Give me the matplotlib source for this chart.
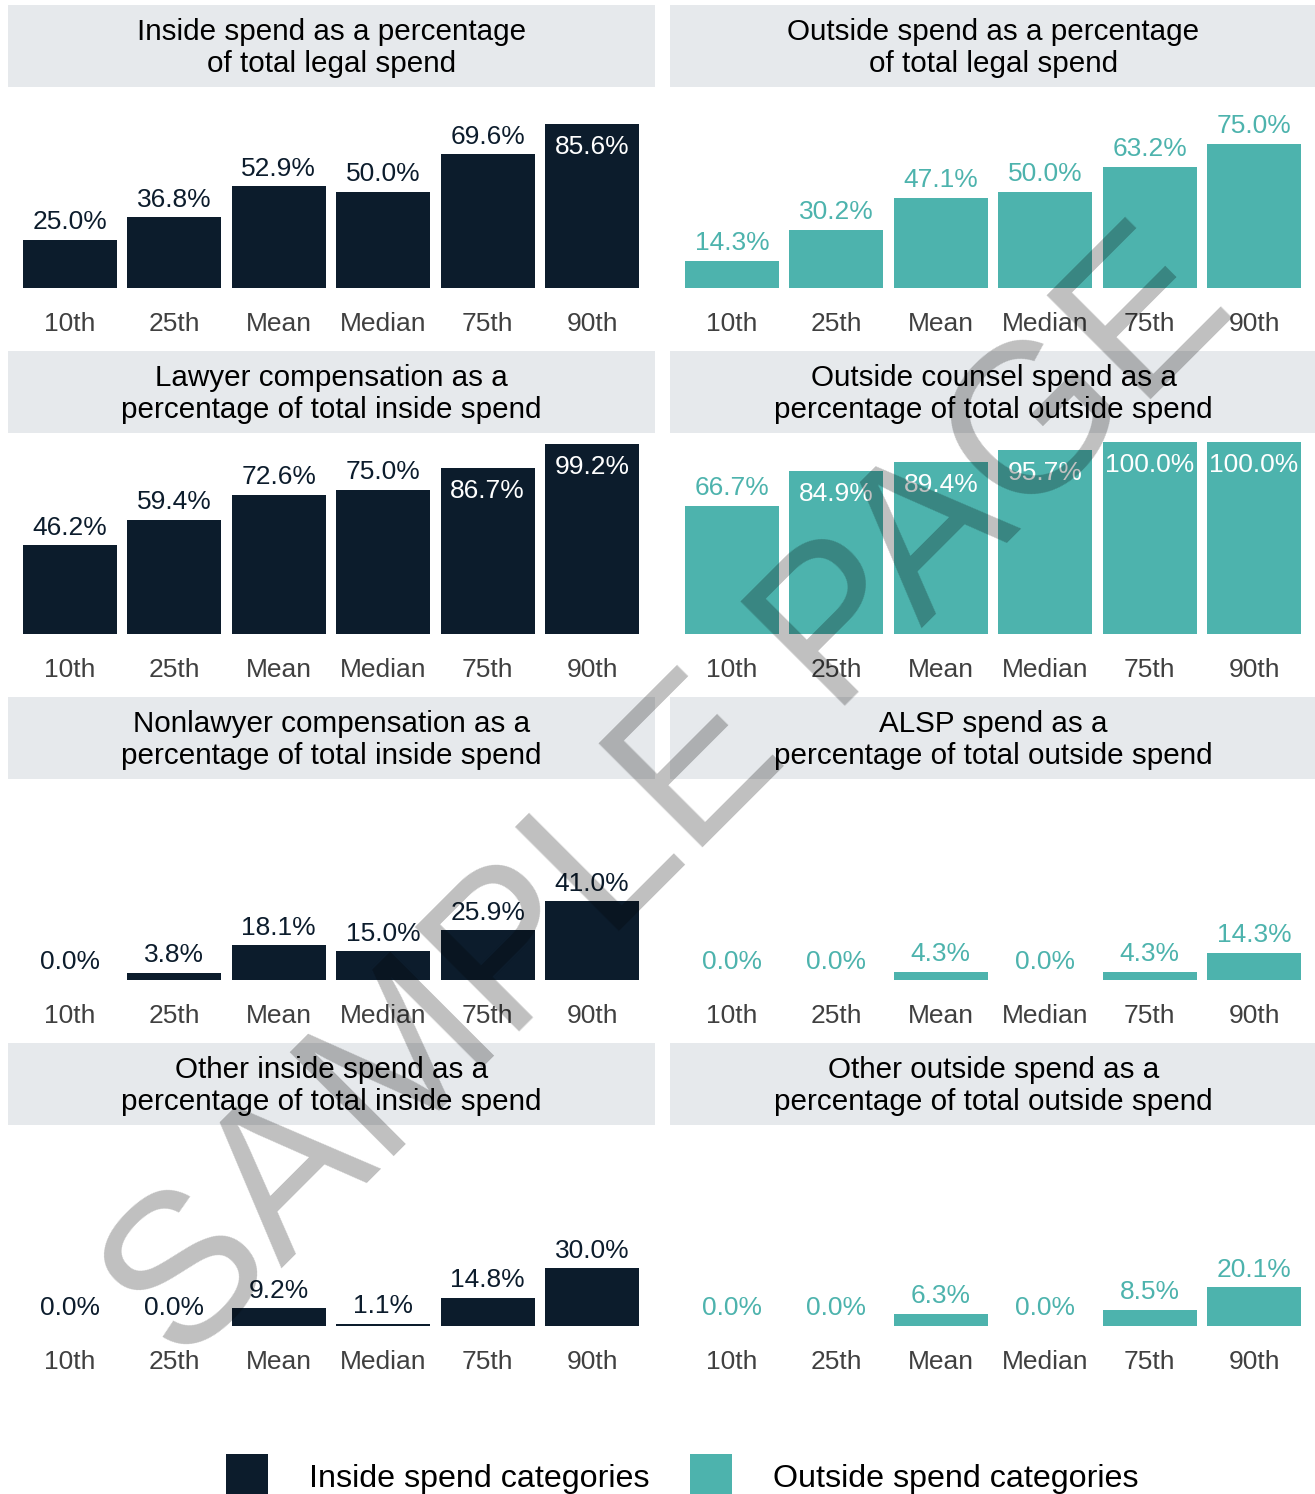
import matplotlib.pyplot as plt
from matplotlib.patches import Rectangle

plt.rcParams['font.family'] = ['Liberation Sans', 'DejaVu Sans']

categories = ['10th', '25th', 'Mean', 'Median', '75th', '90th']

titles = [
    ['Inside spend as a percentage\nof total legal spend',
     'Outside spend as a percentage\nof total legal spend'],
    ['Lawyer compensation as a\npercentage of total inside spend',
     'Outside counsel spend as a\npercentage of total outside spend'],
    ['Nonlawyer compensation as a\npercentage of total inside spend',
     'ALSP spend as a\npercentage of total outside spend'],
    ['Other inside spend as a\npercentage of total inside spend',
     'Other outside spend as a\npercentage of total outside spend'],
]

inside_total = [25.0, 36.8, 52.9, 50.0, 69.6, 85.6]
outside_total = [14.3, 30.2, 47.1, 50.0, 63.2, 75.0]
lawyer_comp = [46.2, 59.4, 72.6, 75.0, 86.7, 99.2]
outside_counsel = [66.7, 84.9, 89.4, 95.7, 100.0, 100.0]
nonlawyer_comp = [0.0, 3.8, 18.1, 15.0, 25.9, 41.0]
alsp_spend = [0.0, 0.0, 4.3, 0.0, 4.3, 14.3]
other_inside = [0.0, 0.0, 9.2, 1.1, 14.8, 30.0]
other_outside = [0.0, 0.0, 6.3, 0.0, 8.5, 20.1]

values = [
    [inside_total, outside_total],
    [lawyer_comp, outside_counsel],
    [nonlawyer_comp, alsp_spend],
    [other_inside, other_outside],
]

legend_labels = ['Inside spend categories', 'Outside spend categories']

NAVY = '#0c1c2c'
TEAL = '#4db3ad'
BAND = '#e6e9ec'
TICK = '#404040'
colors = [NAVY, TEAL]

W, H = 1315, 1494
fig = plt.figure(figsize=(W / 100, H / 100), dpi=100)


def fx(x):
    return x / W


def fy(y):
    return 1 - y / H


px_per = 1.92
ymax = 200 / px_per
fs = 19

for row in range(4):
    top = 5 + 346 * row
    base = 288 + 346 * row
    for col in range(2):
        # title band
        bx0 = 8 + 662 * col
        fig.add_artist(Rectangle((fx(bx0), fy(top + 82)), 647 / W, 82 / H,
                                 transform=fig.transFigure, color=BAND, lw=0))
        fig.text(fx(bx0 + 323.5), fy(top + 43), titles[row][col], ha='center',
                 va='center', fontsize=21.3, linespacing=1.2, color='black')

        ax = fig.add_axes([fx(17.8 + 662 * col), fy(base), 626.4 / W, 200 / H])
        vals = values[row][col]
        c = colors[col]
        ax.bar(range(6), vals, width=0.9, color=c)
        ax.set_xlim(-0.5, 5.5)
        ax.set_ylim(0, ymax)
        ax.set_yticks([])
        ax.set_xticks(range(6), categories)
        ax.tick_params(axis='x', length=0, pad=17.5, labelsize=fs, labelcolor=TICK)
        for s in ax.spines.values():
            s.set_visible(False)
        for i, v in enumerate(vals):
            if v >= 80:
                ax.annotate(f'{v:.1f}%', (i, v), xytext=(0, -8), textcoords='offset points',
                            ha='center', va='top', fontsize=fs, color='white')
            else:
                ax.annotate(f'{v:.1f}%', (i, v), xytext=(0, 4), textcoords='offset points',
                            ha='center', va='bottom', fontsize=fs, color=c)

# legend
for k, (lab, c) in enumerate(zip(legend_labels, colors)):
    x0 = 226 + 464 * k
    fig.add_artist(Rectangle((fx(x0), fy(1496)), 42 / W, 42 / H,
                             transform=fig.transFigure, color=c, lw=0))
    fig.text(fx(x0 + 83), fy(1479), lab, ha='left', va='center', fontsize=23.2, color='black')

# watermark
fig.text(fx(710), fy(840), 'SAMPLE PAGE', rotation=45, rotation_mode='anchor',
         ha='center', va='baseline', fontsize=153, color='black', alpha=0.25)

fig.savefig('out.png', dpi=100)
